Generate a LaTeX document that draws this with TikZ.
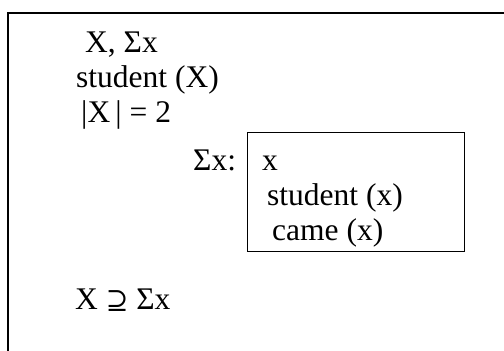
\documentclass[tikz,border=0pt]{standalone}
\usepackage{fontspec}
\setmainfont{Liberation Serif}
\newfontfamily\symfont{DejaVu Serif}
\usepackage{tikz}

\begin{document}
\begin{tikzpicture}[x=1pt, y=-1pt, font=\fontsize{31.5}{36}\selectfont,
    txt/.style={anchor=base west, inner sep=0pt},
    drsbox/.style={draw, line width=1.2pt, anchor=north west, inner sep=0pt,
                   minimum width=217pt, minimum height=119pt}]
  \useasboundingbox (0,0) rectangle (504,351);
  \draw[line width=2pt] (8,351) -- (8,13) -- (504,13);
  \node[txt] (head)  at (85,52)   {X, Σx};
  \node[txt] (stud)  at (76,87)   {student (X)};
  \node[txt] (card)  at (81,122)  {|X\,| = 2};
  \node[txt] (sig)   at (193,170) {Σx:};
  \node[drsbox] (drs) at (247,132) {};
  \node[txt] (ref)   at (262,170) {x};
  \node[txt] (cond1) at (267,205) {student (x)};
  \node[txt] (cond2) at (272,240) {came (x)};
  \node[txt] (incl)  at (75,309)  {X {\symfont\fontsize{27}{30}\selectfont ⊇} Σx};
\end{tikzpicture}
\end{document}
